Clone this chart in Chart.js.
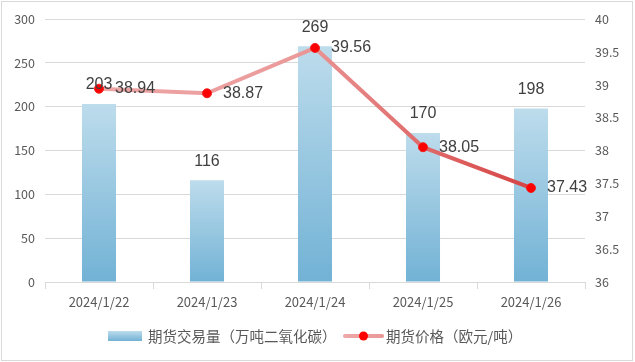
<!DOCTYPE html>
<html>
<head>
<meta charset="utf-8">
<script src="https://cdn.jsdelivr.net/npm/chart.js@4.4.1/dist/chart.umd.min.js"></script>
<style>
html,body{margin:0;padding:0;background:#fff;}
#wrap{width:635px;height:362px;position:relative;}
</style>
</head>
<body>
<div id="wrap"><canvas id="c" width="635" height="362"></canvas></div>
<script>
const categories = ['2024/1/22', '2024/1/23', '2024/1/24', '2024/1/25', '2024/1/26'];
const volumeValues = [203, 116, 269, 170, 198];
const priceValues = [38.94, 38.87, 39.56, 38.05, 37.43];
const volumeLabel = '期货交易量（万吨二氧化碳）';
const priceLabel = '期货价格（欧元/吨）';

const CJK = '"Noto Sans CJK SC", "Noto Sans", sans-serif';
const NUM = '"Liberation Sans", Arial, sans-serif';

function barGradient(ctx, top, bottom) {
  const g = ctx.createLinearGradient(0, top, 0, bottom);
  g.addColorStop(0, '#bddcec');
  g.addColorStop(1, '#72b2d5');
  return g;
}
function lineGradient(ctx, left, right) {
  const g = ctx.createLinearGradient(left, 0, right, 0);
  g.addColorStop(0, '#eea6a6');
  g.addColorStop(0.45, '#eb9a9a');
  g.addColorStop(1, '#d64343');
  return g;
}

const extras = {
  id: 'extras',
  afterDraw(chart) {
    const ctx = chart.ctx;
    ctx.save();
    // bar value labels
    const barMeta = chart.getDatasetMeta(0);
    ctx.font = '16px ' + NUM;
    ctx.fillStyle = '#404040';
    ctx.textAlign = 'center';
    ctx.textBaseline = 'middle';
    barMeta.data.forEach((el, i) => {
      ctx.fillText(String(volumeValues[i]), el.x, el.y - 19);
    });
    // line value labels
    const lineMeta = chart.getDatasetMeta(1);
    ctx.textAlign = 'left';
    lineMeta.data.forEach((el, i) => {
      ctx.fillText(priceValues[i].toFixed(2), el.x + 16, el.y);
    });
    // legend
    const ly = 336;
    const bx = 108;
    const bg = ctx.createLinearGradient(0, ly - 5, 0, ly + 5);
    bg.addColorStop(0, '#bddcec');
    bg.addColorStop(1, '#72b2d5');
    ctx.fillStyle = bg;
    ctx.fillRect(bx, ly - 5, 34, 10);
    ctx.font = '14.5px ' + CJK;
    ctx.fillStyle = '#595959';
    ctx.textBaseline = 'middle';
    ctx.fillText(volumeLabel, 148, ly);
    const lx1 = 345, lx2 = 382;
    ctx.strokeStyle = lineGradient(ctx, lx1, lx2 + 40);
    ctx.lineWidth = 4;
    ctx.lineCap = 'round';
    ctx.beginPath();
    ctx.moveTo(lx1, ly);
    ctx.lineTo(lx2, ly);
    ctx.stroke();
    ctx.beginPath();
    ctx.arc((lx1 + lx2) / 2, ly, 4.5, 0, Math.PI * 2);
    ctx.fillStyle = '#ff0000';
    ctx.fill();
    ctx.fillStyle = '#595959';
    ctx.fillText(priceLabel, 386, ly);
    // outer border
    ctx.strokeStyle = '#d9d9d9';
    ctx.lineWidth = 1;
    ctx.strokeRect(1.5, 1.5, 631, 359);
    ctx.restore();
  }
};

new Chart(document.getElementById('c'), {
  type: 'bar',
  data: {
    labels: categories,
    datasets: [
      {
        type: 'bar',
        label: volumeLabel,
        data: volumeValues,
        yAxisID: 'y',
        order: 1,
        barPercentage: 0.315,
        categoryPercentage: 1,
        backgroundColor: (c) => {
          const chart = c.chart;
          if (!chart.chartArea || c.dataIndex === undefined) return '#9ccbe3';
          const ys = chart.scales.y;
          const top = ys.getPixelForValue(volumeValues[c.dataIndex]);
          const bottom = ys.getPixelForValue(0);
          return barGradient(chart.ctx, top, bottom);
        },
        borderWidth: 0
      },
      {
        type: 'line',
        label: priceLabel,
        data: priceValues,
        yAxisID: 'y1',
        order: 0,
        borderWidth: 4,
        borderColor: (c) => {
          const chart = c.chart;
          if (!chart.chartArea) return '#e08080';
          return lineGradient(chart.ctx, chart.chartArea.left + 54, chart.chartArea.right - 54);
        },
        pointRadius: 4.5,
        pointBackgroundColor: '#ff0000',
        pointBorderColor: '#f02020',
        pointBorderWidth: 1,
        tension: 0,
        fill: false
      }
    ]
  },
  options: {
    responsive: false,
    animation: false,
    devicePixelRatio: 1,
    layout: { padding: { top: 19, left: 0, right: 0, bottom: 0 } },
    plugins: {
      legend: { display: false },
      tooltip: { enabled: false }
    },
    scales: {
      x: {
        offset: true,
        grid: { display: true, drawOnChartArea: false, drawTicks: true, tickLength: 7, color: '#d9d9d9', offset: true },
        border: { display: true, color: '#d9d9d9' },
        ticks: { color: '#595959', font: { family: CJK, size: 13 }, padding: 5, maxRotation: 0 },
        afterFit: (a) => { a.height = 80; }
      },
      y: {
        position: 'left',
        min: 0, max: 300,
        ticks: { stepSize: 50, color: '#595959', font: { family: CJK, size: 12.5 }, padding: 10 },
        grid: { color: '#d9d9d9', drawTicks: false },
        border: { display: false },
        afterFit: (a) => { a.width = 45; }
      },
      y1: {
        position: 'right',
        min: 36, max: 40,
        ticks: { stepSize: 0.5, color: '#595959', font: { family: CJK, size: 12.5 }, padding: 10,
                 callback: (v) => String(Math.round(v * 10) / 10) },
        grid: { drawOnChartArea: false, drawTicks: false },
        border: { display: false },
        afterFit: (a) => { a.width = 50; }
      }
    }
  },
  plugins: [extras]
});
</script>
</body>
</html>
